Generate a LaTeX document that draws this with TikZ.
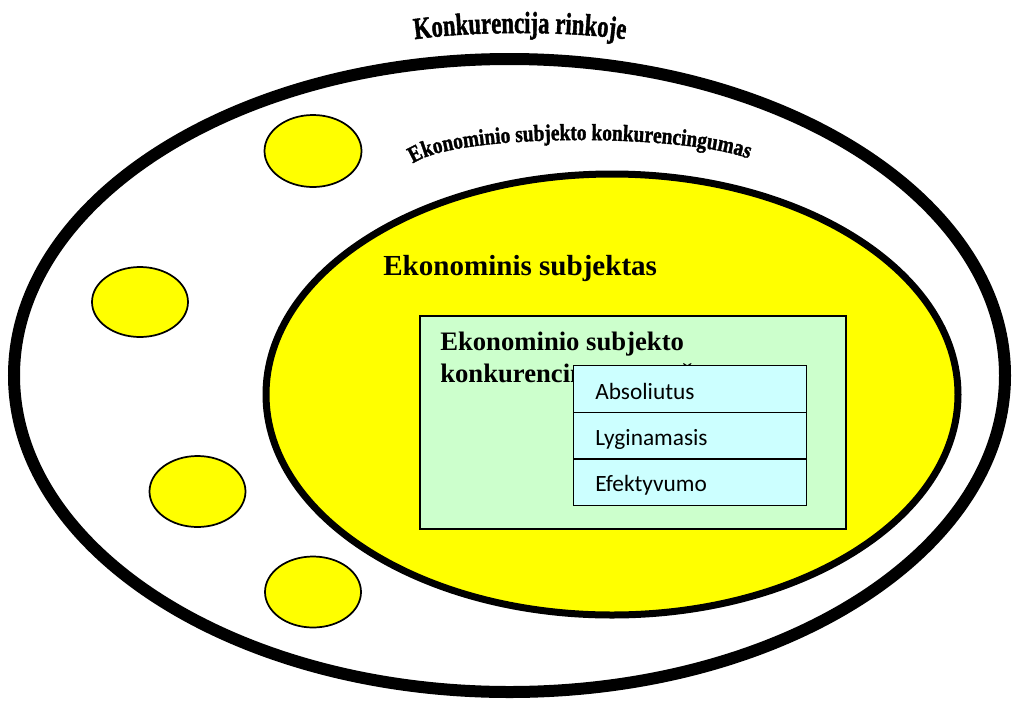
\documentclass[tikz,border=0pt]{standalone}
\usepackage{fontspec}
\setmainfont{Liberation Serif}
\newfontfamily\calfont{Carlito}
\newfontface\wafont[FakeBold=1.6]{Liberation Serif Bold}
\usetikzlibrary{decorations.text}
\definecolor{yel}{RGB}{255,255,0}
\definecolor{grn}{RGB}{204,255,204}
\definecolor{cyn}{RGB}{204,255,255}
\begin{document}
\begin{tikzpicture}[x=0.75pt,y=0.75pt,
  bubble/.style={draw=black, fill=yel, line width=1.3pt},
  cbox/.style={draw=black, fill=cyn, line width=1.1pt, minimum width=174.75pt, minimum height=35pt, inner sep=0pt, anchor=north west},
  ctext/.style={font=\calfont\fontsize{17.5}{21}\selectfont, anchor=base west, inner sep=0pt},
  gtitle/.style={font=\bfseries\fontsize{20}{24}\selectfont, anchor=base west, inner sep=0pt},
  stitle/.style={font=\bfseries\fontsize{21.8}{26}\selectfont, anchor=base west, inner sep=0pt}
]
\useasboundingbox (0,0) rectangle (1018,-704);
\fill[white] (0,0) rectangle (1018,-704);
% outer market ellipse
\draw[line width=9pt] (509.5,-375.5) ellipse [x radius=495.5, y radius=316.5];
% inner subject ellipse
\draw[line width=5.25pt, fill=yel] (612,-394.5) ellipse [x radius=346, y radius=220.5];
% small competitor bubbles
\draw[bubble] (313,-151) ellipse [x radius=48.5, y radius=36];
\draw[bubble] (140,-302) ellipse [x radius=48, y radius=35];
\draw[bubble] (197.5,-491.5) ellipse [x radius=48, y radius=35.5];
\draw[bubble] (313,-592) ellipse [x radius=48, y radius=35.5];
% arched titles
\path[decorate, decoration={text effects along path, text={Konkurencija rinkoje}, text align=center,
  text effects/.cd, text along path, characters={font=\wafont\fontsize{17}{20}\selectfont, yscale=1.35}}]
  (410,-40) .. controls (470,-30.7) and (570,-30.7) .. (630,-40);
\path[decorate, decoration={text effects along path, text={Ekonominio subjekto konkurencingumas}, text align=center,
  text effects/.cd, text along path, characters={font=\wafont\fontsize{14.5}{17}\selectfont, yscale=1.2}}]
  (410,-166) .. controls (445,-132) and (690,-133) .. (752,-160);
% subject title
\node[stitle] (subj) at (383,-275) {Ekonominis subjektas};
% green panel
\node[draw=black, fill=grn, line width=1.5pt, anchor=north west, minimum width=319.5pt, minimum height=159.75pt, inner sep=0pt] (panel) at (419,-315) {};
\node[gtitle] (gt1) at (440,-350) {Ekonominio subjekto};
\node[gtitle] (gt2) at (440,-382) {konkurencingumo rūšys};
% cyan list
\node[cbox] (c1) at (573,-365) {};
\node[cbox] (c2) at (573,-411.7) {};
\node[cbox] (c3) at (573,-458.3) {};
\node[ctext] (t1) at (595,-399) {Absoliutus};
\node[ctext] (t2) at (595,-445) {Lyginamasis};
\node[ctext] (t3) at (595,-491) {Efektyvumo};
\end{tikzpicture}
\end{document}
